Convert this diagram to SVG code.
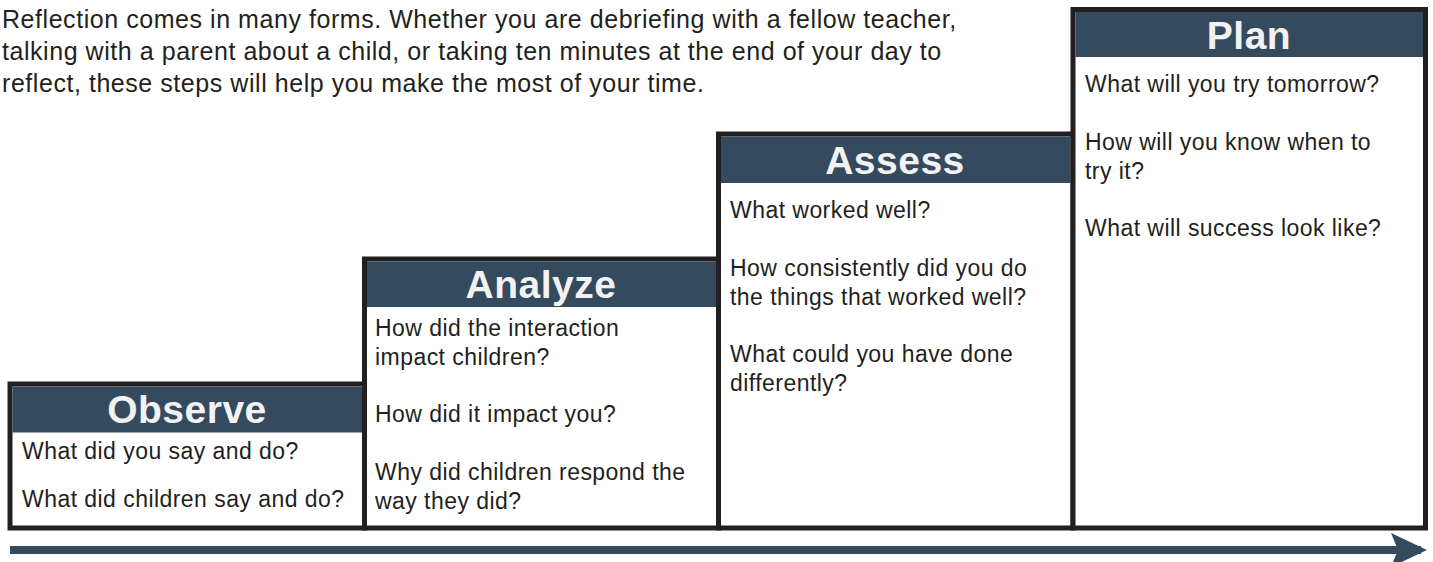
<svg xmlns="http://www.w3.org/2000/svg" width="1433" height="562" viewBox="0 0 1433 562">
  <style>
    .box { fill: #ffffff; stroke: #231f20; stroke-width: 5; }
    .head { fill: #344a5e; }
    .title { font-family: "Liberation Sans", Arial, sans-serif; font-weight: bold; font-size: 39px; fill: #f2f2f2; text-anchor: middle; letter-spacing: 0.5px; }
    .body { font-family: "Liberation Sans", Arial, sans-serif; font-size: 23px; fill: #231f20; letter-spacing: 0.45px; }
    .intro { font-family: "Liberation Sans", Arial, sans-serif; font-size: 25px; fill: #231f20; letter-spacing: 0.55px; }
  </style>
  <defs>
    <marker id="head" viewBox="0 0 36 34" refX="30" refY="17" markerWidth="36" markerHeight="34" markerUnits="userSpaceOnUse" orient="auto">
      <path d="M0,0 L36,17 L0,34 L7,17 Z" fill="#344a5e"/>
    </marker>
  </defs>

  <!-- intro paragraph -->
  <text class="intro" x="2" y="28">Reflection comes in many forms. Whether you are debriefing with a fellow teacher,</text>
  <text class="intro" x="2" y="60">talking with a parent about a child, or taking ten minutes at the end of your day to</text>
  <text class="intro" x="2" y="92">reflect, these steps will help you make the most of your time.</text>

  <!-- step: Observe -->
  <g id="observe">
    <rect class="box" x="10" y="384" width="354.5" height="144"/>
    <rect class="head" x="12.5" y="386.5" width="349.5" height="46"/>
    <text class="title" x="187" y="423">Observe</text>
    <text class="body" x="22" y="459">What did you say and do?</text>
    <text class="body" x="22" y="507">What did children say and do?</text>
  </g>

  <!-- step: Analyze -->
  <g id="analyze">
    <rect class="box" x="364.5" y="259" width="354" height="269"/>
    <rect class="head" x="367" y="261.5" width="349" height="45.5"/>
    <text class="title" x="541" y="298">Analyze</text>
    <text class="body" x="375" y="336">How did the interaction</text>
    <text class="body" x="375" y="365">impact children?</text>
    <text class="body" x="375" y="422">How did it impact you?</text>
    <text class="body" x="375" y="480">Why did children respond the</text>
    <text class="body" x="375" y="509">way they did?</text>
  </g>

  <!-- step: Assess -->
  <g id="assess">
    <rect class="box" x="718.5" y="134" width="354.5" height="394"/>
    <rect class="head" x="721" y="136.5" width="349.5" height="46.5"/>
    <text class="title" x="895" y="174">Assess</text>
    <text class="body" x="730" y="218">What worked well?</text>
    <text class="body" x="730" y="276">How consistently did you do</text>
    <text class="body" x="730" y="305">the things that worked well?</text>
    <text class="body" x="730" y="362">What could you have done</text>
    <text class="body" x="730" y="391">differently?</text>
  </g>

  <!-- step: Plan -->
  <g id="plan">
    <rect class="box" x="1073" y="9.5" width="352.5" height="518.5"/>
    <rect class="head" x="1075.5" y="12" width="347.5" height="45"/>
    <text class="title" x="1249" y="49">Plan</text>
    <text class="body" x="1085" y="92">What will you try tomorrow?</text>
    <text class="body" x="1085" y="150">How will you know when to</text>
    <text class="body" x="1085" y="179">try it?</text>
    <text class="body" x="1085" y="236">What will success look like?</text>
  </g>

  <!-- progression arrow -->
  <g id="connectors">
    <line x1="10" y1="550" x2="1421" y2="550" stroke="#344a5e" stroke-width="8" marker-end="url(#head)"/>
  </g>
</svg>
